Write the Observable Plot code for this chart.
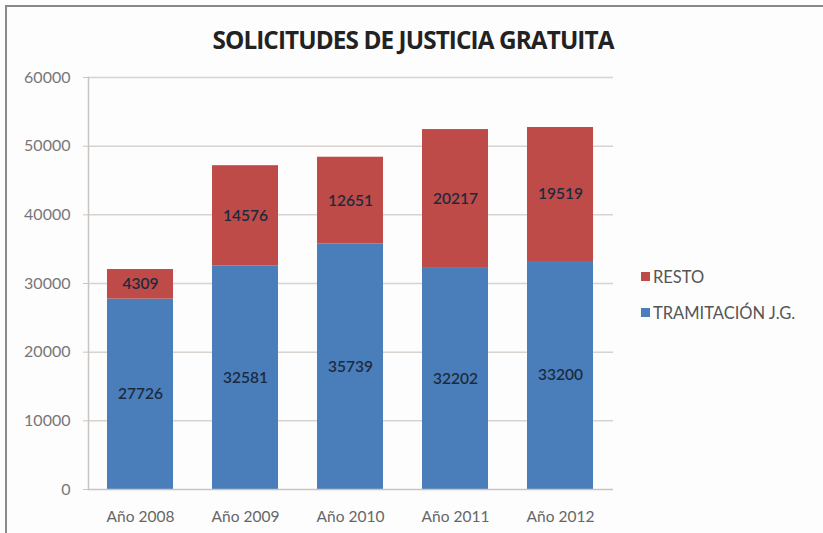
<!DOCTYPE html>
<html><head><meta charset="utf-8">
<script src="https://cdn.jsdelivr.net/npm/d3@7"></script>
<script src="https://cdn.jsdelivr.net/npm/@observablehq/plot@0.6"></script>
<style>
html,body{margin:0;background:#fdfdfe;overflow:hidden;}
#wrap{position:relative;width:823px;height:533px;background:#fdfdfe;font-family:Lato,"Open Sans",sans-serif;overflow:hidden;}
#ftop{position:absolute;left:5px;top:5px;width:818px;height:2px;background:#8a8a8a;}
#fleft{position:absolute;left:5px;top:5px;width:2px;height:528px;background:#8a8a8a;}
#title{position:absolute;left:0;width:826px;top:23px;text-align:center;font-family:"Open Sans",Lato,sans-serif;font-weight:700;font-size:24.3px;color:#222;letter-spacing:-0.9px;}
#legend{position:absolute;left:641px;top:266px;font-size:16.5px;color:#555;}
#legend div{display:flex;align-items:center;height:21px;margin-bottom:15px;}
#legend span.sw{display:inline-block;width:9px;height:9px;margin-right:3px;}
#chart{position:absolute;left:0;top:0;}
</style></head>
<body><div id="wrap"><div id="ftop"></div><div id="fleft"></div><div id="title">SOLICITUDES DE JUSTICIA GRATUITA</div><div id="legend"></div><div id="chart"></div></div>
<script>
const years = ["Año 2008","Año 2009","Año 2010","Año 2011","Año 2012"];
const tramitacion = [27726, 32581, 35739, 32202, 33200];
const resto = [4309, 14576, 12651, 20217, 19519];
const seriesNames = ["TRAMITACIÓN J.G.", "RESTO"];
const colors = ["#4a7ebb", "#be4b48"];
const yTicks = [0, 10000, 20000, 30000, 40000, 50000, 60000];

const rows = [];
years.forEach((y, i) => {
  rows.push({year: y, series: seriesNames[0], value: tramitacion[i]});
  rows.push({year: y, series: seriesNames[1], value: resto[i]});
});

const plot = Plot.plot({
  width: 823, height: 533,
  marginTop: 77, marginBottom: 44, marginLeft: 88, marginRight: 210,
  style: {background: "transparent", fontFamily: "Lato, 'Open Sans', sans-serif", fontSize: "12px", color: "#666"},
  x: {domain: years, paddingInner: 0.37, paddingOuter: 0.185, label: null},
  y: {domain: [0, 60000], label: null},
  color: {domain: seriesNames, range: colors},
  marks: [
    Plot.gridY(yTicks.slice(1), {stroke: "#d8d3cf", strokeOpacity: 1, strokeWidth: 1.5}),
    Plot.barY(rows, Plot.stackY({x: "year", y: "value", fill: "series", order: seriesNames})),
    Plot.text(rows, Plot.stackY({x: "year", y: "value", z: "series", order: seriesNames, text: d => String(d.value), fill: "#1c2a40", fontSize: 15.5, fontWeight: 600})),
    Plot.frame({anchor: "left", stroke: "#c9c4c0", strokeWidth: 1.5}),
    Plot.ruleY([0], {stroke: "#c9c4c0", strokeWidth: 1.5}),
    Plot.axisY({ticks: yTicks, tickFormat: d => String(d), tickSize: 5, tickPadding: 13, stroke: "#c9c4c0", fill: "#777", fontSize: 16}),
    Plot.axisX({tickSize: 0, tickPadding: 21, fill: "#666", fontSize: 15.5})
  ]
});
document.getElementById("chart").appendChild(plot);

const lg = document.getElementById("legend");
[[seriesNames[1], colors[1]], [seriesNames[0], colors[0]]].forEach(([n, c]) => {
  const d = document.createElement("div");
  d.innerHTML = `<span class="sw" style="background:${c}"></span>${n}`;
  lg.appendChild(d);
});
</script></body></html>
